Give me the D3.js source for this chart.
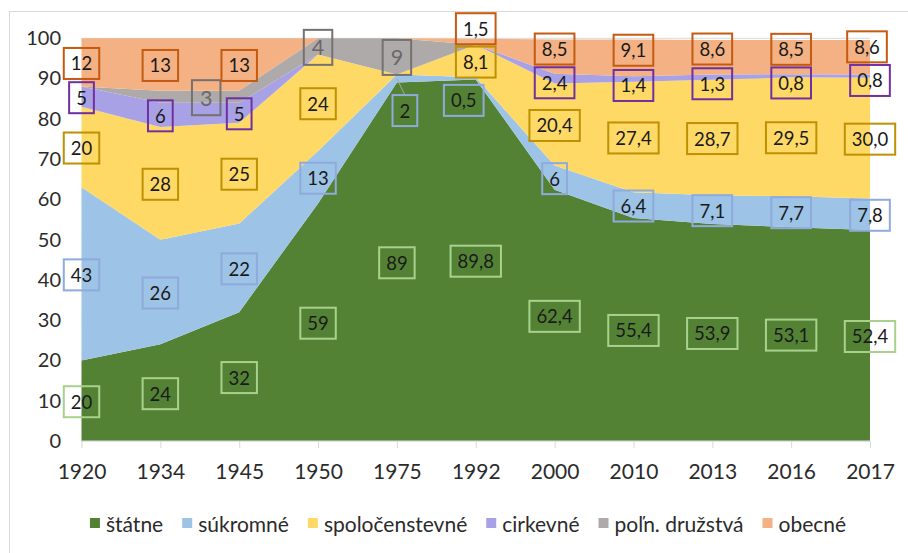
<!DOCTYPE html>
<html>
<head>
<meta charset="utf-8">
<script src="https://cdn.jsdelivr.net/npm/d3@7"></script>
<style>
  body { margin: 0; background: #fff; }
  svg { display: block; }
  text { font-family: Lato, "Open Sans", "DejaVu Sans", sans-serif; }
</style>
</head>
<body>
<svg id="chart" width="908" height="553"></svg>
<script>
// Forest ownership shares (%) by year
const years = ["1920", "1934", "1945", "1950", "1975", "1992", "2000", "2010", "2013", "2016", "2017"];
const seriesNames = ["štátne", "súkromné", "spoločenstevné", "cirkevné", "poľn. družstvá", "obecné"];

const statne         = [20, 24, 32, 59, 89, 89.8, 62.4, 55.4, 53.9, 53.1, 52.4];
const sukromne       = [43, 26, 22, 13, 2, 0.5, 6, 6.4, 7.1, 7.7, 7.8];
const spolocenstevne = [20, 28, 25, 24, 0, 8.1, 20.4, 27.4, 28.7, 29.5, 30.0];
const cirkevne       = [5, 6, 5, 0, 0, 0, 2.4, 1.4, 1.3, 0.8, 0.8];
const polnDruzstva   = [0, 3, 3, 4, 9, 0, 0, 0, 0, 0, 0];
const obecne         = [12, 13, 13, 0, 0, 1.5, 8.5, 9.1, 8.6, 8.5, 8.6];

const yTicks = [0, 10, 20, 30, 40, 50, 60, 70, 80, 90, 100];

const seriesValues = [statne, sukromne, spolocenstevne, cirkevne, polnDruzstva, obecne];

// styling
const fillColors   = ["#548235", "#9DC3E6", "#FFD966", "#A9A1E6", "#AEAAAA", "#F4B183"];
const boxColors    = ["#A9D18E", "#8FAADC", "#BF9000", "#7030A0", "#767171", "#C55A11"];
const labelColors  = ["#1a1a1a", "#1a1a1a", "#1a1a1a", "#1a1a1a", "#6b6767", "#1a1a1a"];
const labelSizes   = [18.5, 18.5, 18.5, 18.5, 21.5, 18.5];
const boxHeights   = [31, 31, 31, 31, 35, 31];
const boxPads      = [14, 14, 14, 14, 16, 14];

// labels that were moved by hand away from the centre of their band
const labelNudge = {
  "poľn. družstvá|1945": [-33, 0],
  "súkromné|1975": [8, 31],
  "súkromné|1992": [-12, 21],
  "obecné|1992": [0, -14],
  "obecné|2000": [0, -8.6],
  "obecné|2010": [0, -8.6],
  "obecné|2013": [0, -9.2],
  "obecné|2016": [0, -8.7],
  "obecné|2017": [-3, -11.4],
  "cirkevné|2000": [0, 3.2],
  "cirkevné|2010": [0, 5.5],
  "cirkevné|2013": [0, 5.6],
  "cirkevné|2016": [0, 6.2],
  "cirkevné|2017": [0, 3.3]
};
const hiddenLabels = new Set(["poľn. družstvá|1934"]);
const leaderLines = new Set(["súkromné|1975"]);
const fixedDecimals = { "spoločenstevné|2017": 1 };

const svg = d3.select("#chart");
const W = 908, H = 553;

// chart frame
svg.append("rect")
  .attr("x", 9.5).attr("y", 11.5)
  .attr("width", W + 10).attr("height", H + 10)
  .attr("fill", "#fff").attr("stroke", "#D9D9D9").attr("stroke-width", 1);

const x = d3.scalePoint().domain(years).range([81.5, 870]);
const y = d3.scaleLinear().domain([0, 100]).range([441, 38.3]);

// table rows for the stack layout
const table = years.map((yr, j) => {
  const row = { year: yr };
  seriesNames.forEach((name, i) => { row[name] = seriesValues[i][j]; });
  return row;
});
const stacked = d3.stack().keys(seriesNames)(table);

// horizontal gridlines
svg.append("g")
  .selectAll("line")
  .data(yTicks)
  .join("line")
  .attr("x1", x.range()[0]).attr("x2", x.range()[1])
  .attr("y1", d => y(d)).attr("y2", d => y(d))
  .attr("stroke", "#D9D9D9").attr("stroke-width", 1);

// stacked areas
const area = d3.area()
  .x(d => x(d.data.year))
  .y0(d => y(d[0]))
  .y1(d => y(d[1]));

svg.append("g")
  .selectAll("path")
  .data(stacked)
  .join("path")
  .attr("d", area)
  .attr("fill", (d, i) => fillColors[i]);

// y axis
const yAxis = svg.append("g")
  .attr("transform", "translate(61,0)")
  .call(d3.axisLeft(y).tickValues(yTicks).tickSize(0).tickPadding(0));
yAxis.select(".domain").remove();
yAxis.selectAll("text")
  .attr("font-size", 20)
  .attr("fill", "#2b2b2b")
  .style("font-family", "Lato, 'Open Sans', sans-serif");

// x axis
const xAxis = svg.append("g")
  .attr("transform", "translate(0,441)")
  .call(d3.axisBottom(x).tickSize(7).tickSizeOuter(0).tickPadding(16));
xAxis.select(".domain").attr("stroke", "#D9D9D9").attr("d", `M${x.range()[0]},0H${x.range()[1]}`);
xAxis.selectAll(".tick line").attr("stroke", "#D9D9D9");
xAxis.selectAll("text")
  .attr("font-size", 21)
  .attr("fill", "#2b2b2b")
  .style("font-family", "Lato, 'Open Sans', sans-serif");

// data labels
const fmt = (v, key) => {
  const dec = fixedDecimals[key] !== undefined ? fixedDecimals[key] : (Number.isInteger(v) ? 0 : 1);
  return v.toFixed(dec).replace(".", ",");
};

const labelLayer = svg.append("g");
stacked.forEach((layer, i) => {
  const name = seriesNames[i];
  layer.forEach((d, j) => {
    const v = seriesValues[i][j];
    const key = name + "|" + years[j];
    if (!(v > 0) || hiddenLabels.has(key)) return;
    const nudge = labelNudge[key] || [0, 0];
    const px = x(years[j]);
    const py = y((d[0] + d[1]) / 2);
    const cx = px + nudge[0];
    const cy = py + 1 + nudge[1];
    const g = labelLayer.append("g");
    const t = g.append("text")
      .attr("x", cx).attr("y", cy)
      .attr("text-anchor", "middle")
      .attr("dominant-baseline", "central")
      .attr("font-size", labelSizes[i])
      .attr("fill", labelColors[i])
      .text(fmt(v, key));
    const tw = t.node().getComputedTextLength();
    const bw = tw + boxPads[i], bh = boxHeights[i];
    g.insert("rect", "text")
      .attr("x", cx - bw / 2).attr("y", cy - bh / 2)
      .attr("width", bw).attr("height", bh)
      .attr("fill", "none")
      .attr("stroke", boxColors[i]).attr("stroke-width", 2);
    if (leaderLines.has(key)) {
      g.append("line")
        .attr("x1", px).attr("y1", py)
        .attr("x2", cx).attr("y2", cy - bh / 2)
        .attr("stroke", "#A6A6A6").attr("stroke-width", 1);
    }
  });
});

// legend
const legend = svg.append("g");
const legendItems = seriesNames.map((name, i) => {
  const g = legend.append("g");
  g.append("rect").attr("width", 10).attr("height", 10).attr("y", -5).attr("fill", fillColors[i]);
  const t = g.append("text")
    .attr("x", 16).attr("y", 0)
    .attr("dominant-baseline", "central")
    .attr("font-size", 21)
    .attr("fill", "#2b2b2b")
    .text(name);
  return { g, w: 16 + t.node().getComputedTextLength() };
});
const gap = 19;
const total = d3.sum(legendItems, d => d.w) + gap * (legendItems.length - 1);
let lx = 468 - total / 2;
legendItems.forEach(it => {
  it.g.attr("transform", `translate(${lx},523)`);
  lx += it.w + gap;
});
</script>
</body>
</html>
